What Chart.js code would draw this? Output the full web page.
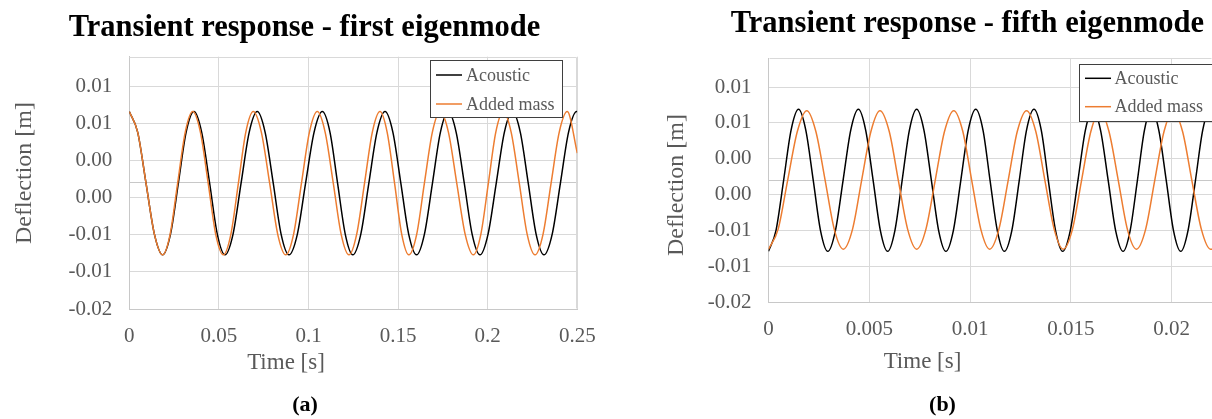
<!DOCTYPE html>
<html>
<head>
<meta charset="utf-8">
<script src="https://cdn.jsdelivr.net/npm/chart.js@4.4.1/dist/chart.umd.min.js"></script>
<style>
html,body{margin:0;padding:0;background:#ffffff;}
#wrap{position:relative;width:1212px;height:419px;overflow:hidden;background:#fff;}
.cv{position:absolute;top:0;width:606px;height:419px;}
</style>
</head>
<body>
<div id="wrap">
  <div class="cv" style="left:0px"><canvas id="c1" width="606" height="419"></canvas></div>
  <div class="cv" style="left:606px"><canvas id="c2" width="606" height="419"></canvas></div>
</div>
<script>
// ---------------- DATA ----------------
const seriesNames = ['Acoustic', 'Added mass'];

// (a) first eigenmode: time [s], deflection [m]
const m1AcousticT = [0, 0.0047, 0.0093, 0.0140, 0.0186, 0.0230, 0.0274, 0.0317, 0.0361, 0.0404, 0.0448, 0.0491, 0.0534, 0.0579, 0.0624, 0.0669, 0.0714, 0.0758, 0.0803, 0.0847, 0.0891, 0.0938, 0.0984, 0.1031, 0.1077, 0.1120, 0.1162, 0.1205, 0.1247, 0.1292, 0.1337, 0.1382, 0.1427, 0.1471, 0.1515, 0.1559, 0.1603, 0.1647, 0.1692, 0.1736, 0.1780, 0.1824, 0.1869, 0.1913, 0.1957, 0.2002, 0.2048, 0.2093, 0.2138, 0.2182, 0.2226, 0.2270, 0.2314, 0.2360, 0.2406, 0.2451, 0.2497, 0.25];
const m1AcousticY = [
  0.0096, 0.0068, 0, -0.0069, -0.0097, -0.0069, 0, 0.0068,
  0.0096, 0.0068, 0, -0.0069, -0.0097, -0.0069, 0, 0.0068,
  0.0096, 0.0068, 0, -0.0069, -0.0097, -0.0069, 0, 0.0068,
  0.0096, 0.0068, 0, -0.0069, -0.0097, -0.0069, 0, 0.0068,
  0.0096, 0.0068, 0, -0.0069, -0.0097, -0.0069, 0, 0.0068,
  0.0096, 0.0068, 0, -0.0069, -0.0097, -0.0069, 0, 0.0068,
  0.0096, 0.0068, 0, -0.0069, -0.0097, -0.0069, 0, 0.0068,
  0.0096, 0.0096];
const m1AddedT = [0, 0.0047, 0.0093, 0.0140, 0.0186, 0.0228, 0.0270, 0.0312, 0.0354, 0.0397, 0.0440, 0.0482, 0.0525, 0.0567, 0.0609, 0.0650, 0.0692, 0.0737, 0.0783, 0.0828, 0.0873, 0.0917, 0.0961, 0.1005, 0.1049, 0.1093, 0.1138, 0.1182, 0.1226, 0.1269, 0.1313, 0.1356, 0.1399, 0.1439, 0.1480, 0.1520, 0.1560, 0.1604, 0.1647, 0.1691, 0.1734, 0.1781, 0.1827, 0.1874, 0.1920, 0.1962, 0.2004, 0.2045, 0.2087, 0.2131, 0.2176, 0.2220, 0.2264, 0.2309, 0.2354, 0.2399, 0.2444, 0.25];
const m1AddedY = [
  0.0096, 0.0068, 0, -0.0069, -0.0097, -0.0069, 0, 0.0068,
  0.0096, 0.0068, 0, -0.0069, -0.0097, -0.0069, 0, 0.0068,
  0.0096, 0.0068, 0, -0.0069, -0.0097, -0.0069, 0, 0.0068,
  0.0096, 0.0068, 0, -0.0069, -0.0097, -0.0069, 0, 0.0068,
  0.0096, 0.0068, 0, -0.0069, -0.0097, -0.0069, 0, 0.0068,
  0.0096, 0.0068, 0, -0.0069, -0.0097, -0.0069, 0, 0.0068,
  0.0096, 0.0068, 0, -0.0069, -0.0097, -0.0069, 0, 0.0068,
  0.0096, 0.0040];

// (b) fifth eigenmode: time [s], deflection [m]
const m5AcousticT = [0, 0.00037, 0.00075, 0.00112, 0.00149, 0.00185, 0.00222, 0.00258, 0.00294, 0.00332, 0.0037, 0.00408, 0.00446, 0.00482, 0.00519, 0.00555, 0.00591, 0.00627, 0.00663, 0.00699, 0.00735, 0.00771, 0.00808, 0.00844, 0.0088, 0.00917, 0.00954, 0.00991, 0.01028, 0.01064, 0.01099, 0.01135, 0.0117, 0.01207, 0.01244, 0.0128, 0.01317, 0.01353, 0.01388, 0.01424, 0.01459, 0.01497, 0.01535, 0.01572, 0.0161, 0.01647, 0.01685, 0.01722, 0.01759, 0.01794, 0.0183, 0.01865, 0.019, 0.01936, 0.01973, 0.02009, 0.02045, 0.02081, 0.02118, 0.02154, 0.0219, 0.022];
const m5AcousticY = [
  -0.0099, -0.0070, 0, 0.0070, 0.0099, 0.0070, 0, -0.0070,
  -0.0099, -0.0070, 0, 0.0070, 0.0099, 0.0070, 0, -0.0070,
  -0.0099, -0.0070, 0, 0.0070, 0.0099, 0.0070, 0, -0.0070,
  -0.0099, -0.0070, 0, 0.0070, 0.0099, 0.0070, 0, -0.0070,
  -0.0099, -0.0070, 0, 0.0070, 0.0099, 0.0070, 0, -0.0070,
  -0.0099, -0.0070, 0, 0.0070, 0.0099, 0.0070, 0, -0.0070,
  -0.0099, -0.0070, 0, 0.0070, 0.0099, 0.0070, 0, -0.0070,
  -0.0099, -0.0070, 0, 0.0070, 0.0099, 0.0097];
const m5AddedT = [0, 0.00048, 0.00095, 0.00143, 0.0019, 0.00235, 0.00281, 0.00326, 0.00371, 0.00417, 0.00462, 0.00508, 0.00553, 0.00599, 0.00644, 0.0069, 0.00735, 0.00781, 0.00827, 0.00873, 0.00919, 0.00964, 0.01008, 0.01053, 0.01097, 0.01143, 0.01189, 0.01234, 0.0128, 0.01326, 0.01371, 0.01417, 0.01462, 0.01508, 0.01553, 0.01599, 0.01644, 0.01689, 0.01735, 0.0178, 0.01825, 0.01871, 0.01916, 0.01962, 0.02007, 0.02054, 0.021, 0.02147, 0.02193, 0.022];
const m5AddedY = [
  -0.0096, -0.0068, 0, 0.0068, 0.0097, 0.0068, 0, -0.0068,
  -0.0096, -0.0068, 0, 0.0068, 0.0097, 0.0068, 0, -0.0068,
  -0.0096, -0.0068, 0, 0.0068, 0.0097, 0.0068, 0, -0.0068,
  -0.0096, -0.0068, 0, 0.0068, 0.0097, 0.0068, 0, -0.0068,
  -0.0096, -0.0068, 0, 0.0068, 0.0097, 0.0068, 0, -0.0068,
  -0.0096, -0.0068, 0, 0.0068, 0.0097, 0.0068, 0, -0.0068,
  -0.0096, -0.0096];

// ticks
const yTickValues = [-0.017, -0.012, -0.007, -0.002, 0, 0.003, 0.008, 0.013];
const yTickLabels = ['-0.02', '-0.01', '-0.01', '0.00', '', '0.00', '0.01', '0.01'];
const m1XTickValues = [0, 0.05, 0.1, 0.15, 0.2, 0.25];
const m1XTickLabels = ['0', '0.05', '0.1', '0.15', '0.2', '0.25'];
const m5XTickValues = [0, 0.005, 0.01, 0.015, 0.02];
const m5XTickLabels = ['0', '0.005', '0.01', '0.015', '0.02'];

// texts
const titleA = 'Transient response - first eigenmode';
const titleB = 'Transient response - fifth eigenmode';
const xTitle = 'Time [s]';
const yTitle = 'Deflection [m]';
const captionA = '(a)';
const captionB = '(b)';

// ---------------- DRAWING ----------------
const FONT = '"Liberation Serif", "Times New Roman", serif';
const GRAY = '#595959';
const GRID = '#d9d9d9';

function pts(t, y) { return t.map((v, i) => ({ x: v, y: y[i] })); }

const decor = {
  id: 'decor',
  beforeDatasetsDraw(chart, args, o) {
    const { ctx, chartArea: a } = chart;
    ctx.save();
    ctx.strokeStyle = o.frameColor;
    ctx.lineWidth = 1;
    const l = Math.round(a.left) + 0.5, r = Math.round(a.right) - 0.5;
    const t = Math.round(a.top) + 0.5, b = Math.round(a.bottom) - 0.5;
    ctx.beginPath();
    ctx.moveTo(l, t); ctx.lineTo(r, t);
    if (o.rightEdge) { ctx.lineTo(r, b); }
    ctx.stroke();
    ctx.restore();
  },
  afterDraw(chart, args, o) {
    const ctx = chart.ctx;
    const L = o.legend;
    ctx.save();
    ctx.fillStyle = '#ffffff';
    ctx.fillRect(L.x, L.y, L.w, L.h);
    ctx.strokeStyle = '#3f3f3f';
    ctx.lineWidth = 1;
    ctx.strokeRect(L.x + 0.5, L.y + 0.5, L.w, L.h);
    chart.data.datasets.forEach((ds, i) => {
      const y = L.rows[i];
      ctx.strokeStyle = ds.borderColor;
      ctx.lineWidth = ds.borderWidth;
      ctx.beginPath(); ctx.moveTo(L.x0, y); ctx.lineTo(L.x1, y); ctx.stroke();
      ctx.fillStyle = GRAY;
      ctx.font = L.font;
      ctx.textAlign = 'left';
      ctx.textBaseline = 'middle';
      ctx.fillText(ds.label, L.tx, y + 1);
    });
    o.texts.forEach(s => {
      ctx.save();
      ctx.translate(s.x, s.y);
      if (s.rot) ctx.rotate(s.rot);
      ctx.font = s.font;
      ctx.fillStyle = s.color;
      ctx.textAlign = 'center';
      ctx.textBaseline = s.base || 'middle';
      ctx.fillText(s.text, 0, 0);
      ctx.restore();
    });
    ctx.restore();
  }
};

function makeChart(id, c) {
  return new Chart(document.getElementById(id), {
    type: 'line',
    data: {
      datasets: [
        { label: seriesNames[0], data: pts(c.aT, c.aY), borderColor: '#000000', borderWidth: 1.5, pointRadius: 0, cubicInterpolationMode: 'monotone', fill: false, order: 1 },
        { label: seriesNames[1], data: pts(c.mT, c.mY), borderColor: '#ED7D31', borderWidth: 1.5, pointRadius: 0, cubicInterpolationMode: 'monotone', fill: false, order: 0 }
      ]
    },
    options: {
      responsive: false,
      animation: false,
      events: [],
      layout: { padding: c.pad },
      plugins: {
        legend: { display: false },
        title: { display: false },
        tooltip: { enabled: false },
        decor: { frameColor: GRID, rightEdge: c.rightEdge, legend: c.legend, texts: c.texts }
      },
      scales: {
        x: {
          type: 'linear', min: 0, max: c.xMax,
          afterBuildTicks: s => { s.ticks = c.xTicks.map(v => ({ value: v })); },
          afterFit: s => { s.height = c.xH; s.paddingLeft = 0; s.paddingRight = 0; },
          grid: { color: GRID, drawTicks: false, lineWidth: 1 },
          border: { display: true, color: '#c8c8c8', width: 1 },
          ticks: { padding: 15, maxRotation: 0, autoSkip: false, color: GRAY, font: { family: FONT, size: 21 }, callback: (v, i) => c.xLabels[i] }
        },
        y: {
          type: 'linear', min: -0.017, max: 0.017,
          afterBuildTicks: s => { s.ticks = yTickValues.map(v => ({ value: v })); },
          afterFit: s => { s.width = c.yW; s.paddingTop = 0; s.paddingBottom = 0; },
          grid: { color: ctx => (ctx.tick && ctx.tick.value === 0 ? '#c8c8c8' : GRID), drawTicks: false, lineWidth: 1 },
          border: { display: true, color: '#c8c8c8', width: 1 },
          ticks: { padding: 17, autoSkip: false, color: GRAY, font: { family: FONT, size: 21 }, callback: (v, i) => yTickLabels[i] }
        }
      }
    },
    plugins: [decor]
  });
}

makeChart('c1', {
  aT: m1AcousticT, aY: m1AcousticY, mT: m1AddedT, mY: m1AddedY,
  xMax: 0.25, xTicks: m1XTickValues, xLabels: m1XTickLabels,
  pad: { left: 0, top: 56.7, right: 28.7, bottom: 0 }, yW: 129.3, xH: 110, rightEdge: true,
  legend: { x: 430, y: 60, w: 132, h: 57, rows: [75, 104], x0: 436, x1: 462, tx: 466, font: '18px ' + FONT },
  texts: [
    { text: titleA, x: 304.5, y: 36, font: 'bold 30.5px ' + FONT, color: '#000000', base: 'alphabetic' },
    { text: yTitle, x: 25, y: 173, rot: -Math.PI / 2, font: '24px ' + FONT, color: GRAY },
    { text: xTitle, x: 286, y: 362.7, font: '23px ' + FONT, color: GRAY },
    { text: captionA, x: 305, y: 405, font: 'bold 22px ' + FONT, color: '#000000' }
  ]
});

makeChart('c2', {
  aT: m5AcousticT, aY: m5AcousticY, mT: m5AddedT, mY: m5AddedY,
  xMax: 0.022, xTicks: m5XTickValues, xLabels: m5XTickLabels,
  pad: { left: 0, top: 58.3, right: 0, bottom: 0 }, yW: 162.5, xH: 116.7, rightEdge: false,
  legend: { x: 473, y: 64, w: 133, h: 57, rows: [78.3, 106.7], x0: 479, x1: 505, tx: 508.5, font: '18px ' + FONT },
  texts: [
    { text: titleB, x: 361.4, y: 31.7, font: 'bold 30.5px ' + FONT, color: '#000000', base: 'alphabetic' },
    { text: yTitle, x: 70.5, y: 185, rot: -Math.PI / 2, font: '24px ' + FONT, color: GRAY },
    { text: xTitle, x: 316.5, y: 361.7, font: '23px ' + FONT, color: GRAY },
    { text: captionB, x: 336.5, y: 405, font: 'bold 22px ' + FONT, color: '#000000' }
  ]
});
</script>
</body>
</html>
